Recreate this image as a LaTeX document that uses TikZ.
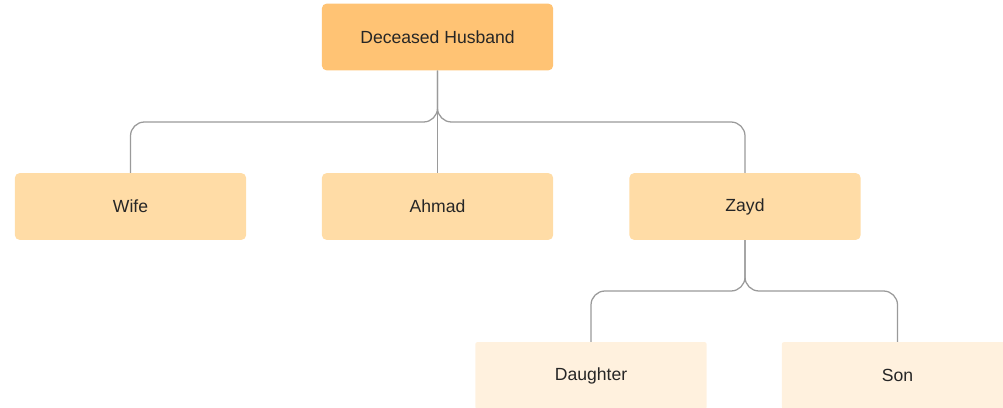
\documentclass[tikz,border=0pt]{standalone}
\usepackage{fontspec}
\setmainfont{Liberation Sans}
\usetikzlibrary{positioning}

\definecolor{rootfill}{HTML}{FFC374}
\definecolor{kidfill}{HTML}{FFDCA6}
\definecolor{grandfill}{HTML}{FFF1DE}
\definecolor{linkgray}{HTML}{9A9A9A}

\begin{document}
\begin{tikzpicture}[
        x=0.025cm, y=-0.025cm,
        every node/.style={rectangle, rounded corners=1.2mm, align=center, minimum width=5.78cm, minimum height=1.67cm, font=\fontsize{12.5}{15}\selectfont, text=black!85},
        link/.style={draw=linkgray, line width=0.9pt, rounded corners=3.5mm}
    ]
    \useasboundingbox (0,0) rectangle (1003,407);
    \clip (0,0) rectangle (1003,407);

    % Deceased
    \node[fill=rootfill] (hus) at (437.5,37) {Deceased Husband};

    % Heirs
    \node[fill=kidfill] (wife) at (130.5,206.5) {Wife};
    \node[fill=kidfill] (ahmad) at (437.5,206.5) {Ahmad};
    \node[fill=kidfill] (zayd) at (745,206.5) {Zayd};

    % Zayd's children
    \node[fill=grandfill, rounded corners=0.5mm] (dau) at (591,375.5) {Daughter};
    \node[fill=grandfill, rounded corners=0.5mm] (son) at (897.5,375.5) {Son};

    % Links
    \coordinate (bus1) at (437.5,122);
    \coordinate (bus2) at (745,291);
    \draw[link] (hus.south) -- (bus1) -| (wife.north);
    \draw[link] (hus.south) -- (bus1) -| (zayd.north);
    \draw[link] (hus.south) -- (ahmad.north);
    \draw[link] (zayd.south) -- (bus2) -| (dau.north);
    \draw[link] (zayd.south) -- (bus2) -| (son.north);

\end{tikzpicture}
\end{document}
